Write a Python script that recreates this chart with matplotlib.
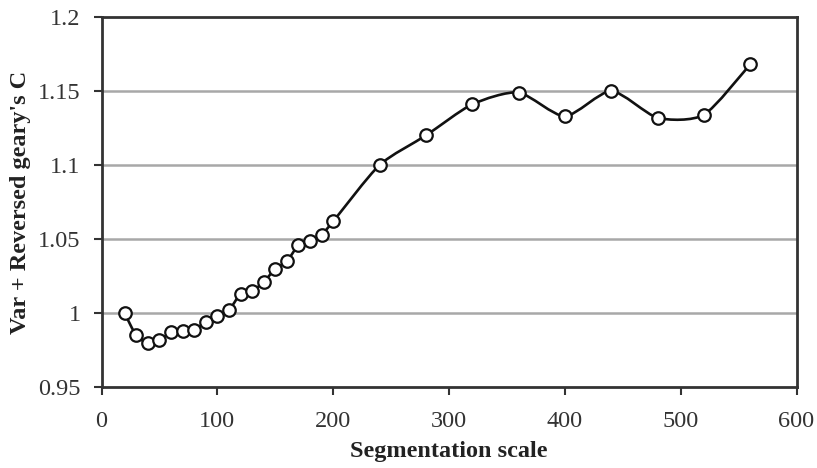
import matplotlib.pyplot as plt
import numpy as np
from matplotlib.path import Path
from matplotlib.patches import PathPatch


""" Data """
scale = [20, 30, 40, 50, 60, 70, 80, 90, 100, 110, 120, 130, 140, 150, 160, 170, 180, 190, 200,
         240, 280, 320, 360, 400, 440, 480, 520, 560]
value = [1.000, 0.985, 0.980, 0.982, 0.987, 0.988, 0.989, 0.994, 0.998, 1.002, 1.013, 1.015,
         1.021, 1.030, 1.035, 1.046, 1.049, 1.053, 1.062,
         1.100, 1.120, 1.141, 1.149, 1.133, 1.150, 1.132, 1.134, 1.168]
xTicks = [0, 100, 200, 300, 400, 500, 600]
yTicks = [0.95, 1.0, 1.05, 1.1, 1.15, 1.2]
yTickLabels = ['0.95', '1', '1.05', '1.1', '1.15', '1.2']


""" Smooth line like a spreadsheet chart """
def smoothPath(xs, ys, k=0.12):
    pts = np.column_stack([xs, ys]).astype(float)
    ext = np.vstack([pts[0], pts, pts[-1]])
    verts = [pts[0]]
    codes = [Path.MOVETO]
    for i in range(1, len(ext) - 2):
        p0, p1, p2, p3 = ext[i - 1], ext[i], ext[i + 1], ext[i + 2]
        c1 = p1 + (p2 - p0) * k
        c2 = p2 - (p3 - p1) * k
        verts += [c1, c2, p2]
        codes += [Path.CURVE4] * 3
    return Path(verts, codes)


plt.rcParams['font.family'] = ['Liberation Serif', 'DejaVu Serif']

fig = plt.figure(figsize=(8.17, 4.68), dpi=100)
ax = fig.add_axes([101.5 / 817, 1 - 387.3 / 468, 695 / 817, 370.3 / 468])

for y in yTicks[1:-1]:
    ax.axhline(y, color='#a8a8a8', lw=1.8, zorder=1)

ax.add_patch(PathPatch(smoothPath(scale, value), facecolor='none', edgecolor='#111111',
                       lw=1.9, zorder=2, transform=ax.transData))
ax.plot(scale, value, linestyle='none', marker='o', markersize=9,
        markerfacecolor='white', markeredgecolor='#111111', markeredgewidth=1.6, zorder=3)

ax.set_xlim(0, 600)
ax.set_ylim(0.95, 1.2)
ax.set_xticks(xTicks)
ax.set_yticks(yTicks)
ax.set_yticklabels(yTickLabels)

for s in ax.spines.values():
    s.set_color('#333333')
    s.set_linewidth(2)

ax.tick_params(direction='out', length=6, width=1.5, color='#333333',
               labelsize=17.5, labelcolor='#333333')
ax.tick_params(axis='x', pad=11)
ax.tick_params(axis='y', pad=9)

ax.set_xlabel('Segmentation scale', fontsize=17.5, fontweight='bold', color='#222222')
ax.xaxis.set_label_coords(0.5, -0.146)
ax.set_ylabel("Var + Reversed geary's C", fontsize=17.5, fontweight='bold', color='#222222')
ax.yaxis.set_label_coords(-0.101, 0.5)

fig.savefig('out.png', dpi=100)
